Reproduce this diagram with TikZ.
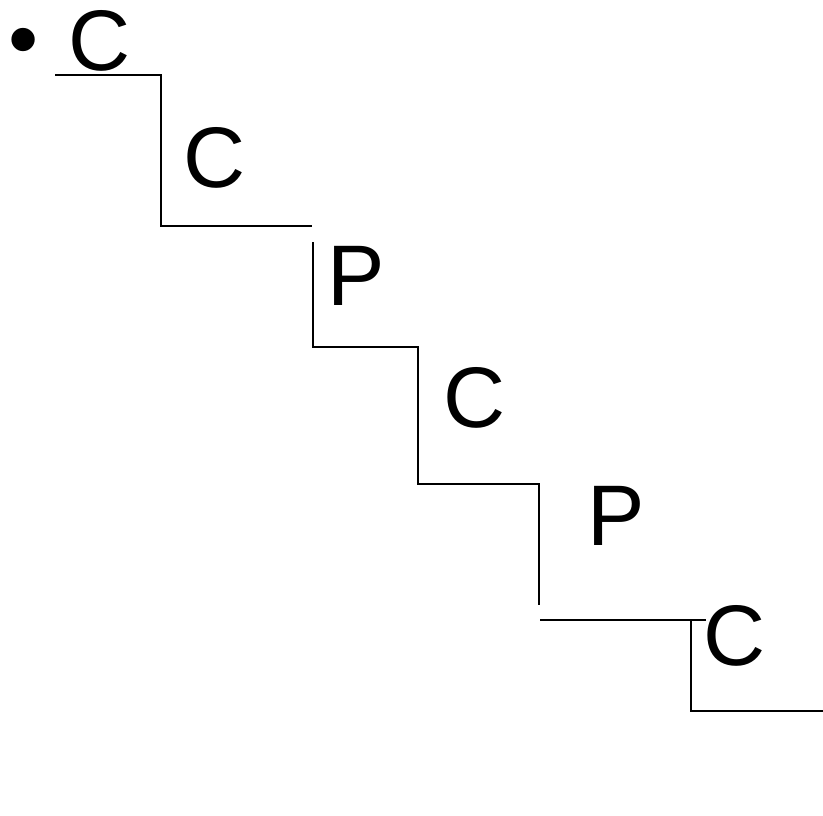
\documentclass[tikz,border=0pt]{standalone}
\usepackage{fontspec}
\setmainfont{Liberation Sans}
\begin{document}
\begin{tikzpicture}[x=1pt,y=-1pt,
  letter/.style={inner sep=0pt,outer sep=0pt,font=\fontsize{86}{100}\selectfont},
  stair/.style={line width=2pt,black,line join=miter}]
\useasboundingbox (0,0) rectangle (823,815);
\node[letter] (bul) at (24,48) {•};
\node[letter] (c1) at (100,41) {C};
\node[letter] (c2) at (215,158) {C};
\node[letter] (p1) at (356,276) {P};
\node[letter] (c3) at (475,398) {C};
\node[letter] (p2) at (616,516) {P};
\node[letter] (c4) at (735,636) {C};
% staircase corners
\coordinate (a0) at (55,75);
\coordinate (a1) at (161,75);
\coordinate (a2) at (161,226);
\coordinate (a3) at (312,226);
\coordinate (b0) at (313,242);
\coordinate (b1) at (313,347);
\coordinate (b2) at (418,347);
\coordinate (b3) at (418,484);
\coordinate (b4) at (539,484);
\coordinate (b5) at (539,605);
\coordinate (d0) at (540,620);
\coordinate (d1) at (706,620);
\coordinate (e0) at (691,620);
\coordinate (e1) at (691,711);
\coordinate (e2) at (823,711);
\draw[stair] (a0) -- (a1) -- (a2) -- (a3);
\draw[stair] (b0) -- (b1) -- (b2) -- (b3) -- (b4) -- (b5);
\draw[stair] (d0) -- (d1);
\draw[stair] (e0) -- (e1) -- (e2);
\end{tikzpicture}
\end{document}
